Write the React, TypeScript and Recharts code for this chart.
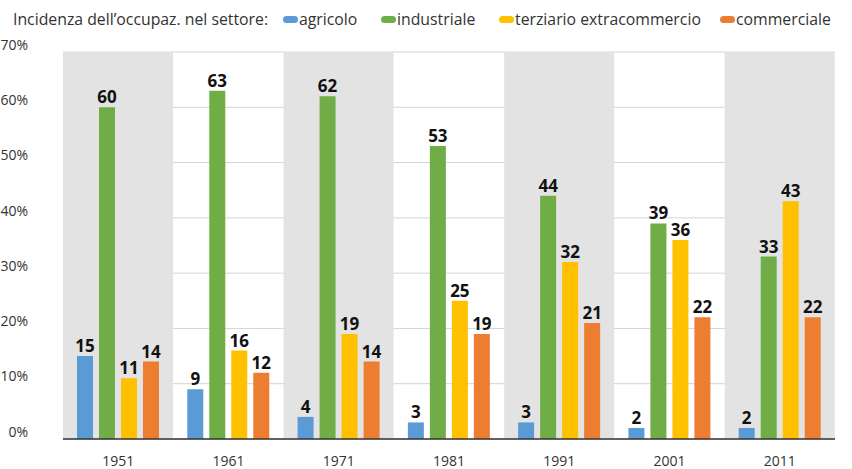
import { BarChart, Bar, XAxis, YAxis, CartesianGrid, LabelList } from 'recharts';

const years = ['1951', '1961', '1971', '1981', '1991', '2001', '2011'];
const agricolo = [15, 9, 4, 3, 3, 2, 2];
const industriale = [60, 63, 62, 53, 44, 39, 33];
const terziario = [11, 16, 19, 25, 32, 36, 43];
const commerciale = [14, 12, 14, 19, 21, 22, 22];
const yTicks = [0, 10, 20, 30, 40, 50, 60, 70];
// alternating grey bands behind every other decade
const band = [70, 0, 70, 0, 70, 0, 70];

const seriesNames = ['agricolo', 'industriale', 'terziario extracommercio', 'commerciale'];
const colors = ['#5b9bd5', '#70ad47', '#ffc000', '#ed7d31'];

const data = years.map((y, i) => ({
  year: y,
  band: band[i],
  agricolo: agricolo[i],
  industriale: industriale[i],
  terziario: terziario[i],
  commerciale: commerciale[i],
}));

const keys = ['agricolo', 'industriale', 'terziario', 'commerciale'];
const legendLeft = [283, 381, 499, 720];
const font = '"Open Sans", sans-serif';

function YTick({ y, payload }: any) {
  return (
    <text x={28} y={y - 6} textAnchor="end" dominantBaseline="middle" fontSize={14} fontFamily={font} fill="#333">
      {payload.value}%
    </text>
  );
}

export default function App() {
  return (
    <div style={{ position: 'absolute', left: 0, top: 0, width: 852, height: 469, background: '#fff', fontFamily: font }}>
      <div style={{ position: 'absolute', left: 13, top: 9, fontSize: 15.8, lineHeight: '20px', color: '#333', whiteSpace: 'nowrap' }}>
        Incidenza dell’occupaz. nel settore:
      </div>
      {seriesNames.map((name, i) => (
        <div key={name} style={{ position: 'absolute', left: legendLeft[i], top: 9, display: 'flex', alignItems: 'center', fontSize: 15.8, lineHeight: '20px', color: '#333', whiteSpace: 'nowrap' }}>
          <span style={{ display: 'inline-block', width: 15, height: 7, borderRadius: 4, background: colors[i], marginRight: 1 }} />
          {name}
        </div>
      ))}
      <BarChart
        width={852}
        height={469}
        data={data}
        margin={{ top: 52, right: 17, bottom: 0, left: 0 }}
        barCategoryGap={0}
        barGap={6}
        style={{ position: 'absolute', left: 0, top: 0 }}
      >
        <XAxis xAxisId="bg" dataKey="year" hide />
        <Bar xAxisId="bg" dataKey="band" fill="#e3e3e3" isAnimationActive={false} />
        <CartesianGrid vertical={false} stroke="#d4d4d4" />
        <XAxis
          dataKey="year"
          height={30}
          tickLine={false}
          axisLine={{ stroke: '#333', strokeWidth: 1.5 }}
          tick={{ fontSize: 14, fontFamily: font, fill: '#333' }}
          tickMargin={11}
        />
        <YAxis
          width={63}
          domain={[0, 70]}
          ticks={yTicks}
          axisLine={false}
          tickLine={false}
          tick={<YTick />}
        />
        {keys.map((k, i) => (
          <Bar key={k} dataKey={k} fill={colors[i]} barSize={16} isAnimationActive={false}>
            <LabelList dataKey={k} position="top" offset={4} fill="#111" fontSize={17} fontWeight={700} fontFamily={font} />
          </Bar>
        ))}
      </BarChart>
    </div>
  );
}
